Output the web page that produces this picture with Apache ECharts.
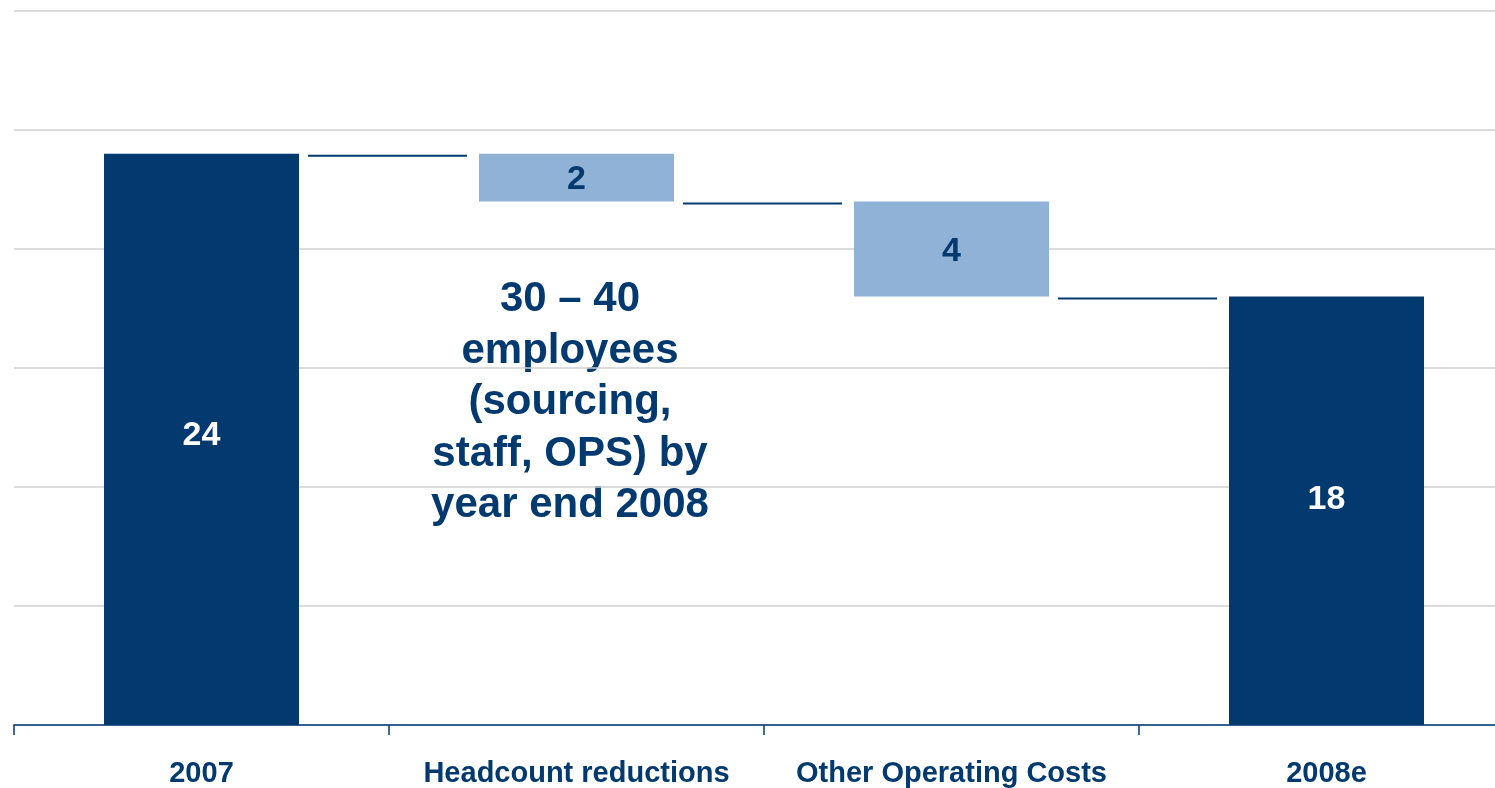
<!DOCTYPE html>
<html>
<head>
<meta charset="utf-8">
<title>Cost bridge 2007 – 2008e</title>
<script src="https://cdn.jsdelivr.net/npm/echarts@6/dist/echarts.min.js"></script>
<style>
  html, body { margin: 0; padding: 0; background: #ffffff; overflow: hidden; }
  /* the plot runs past the right edge of the page */
  #chart { width: 1514px; height: 788px; }
</style>
</head>
<body>
<div id="chart"></div>
<script>
// Bridge steps: totals are full bars, the rest are changes from the running level
const categories = ['2007', 'Headcount reductions', 'Other Operating Costs', '2008e'];
const values = [24, -2, -4, 18];
const isTotal = [true, false, false, true];
const yMax = 30;
const yInterval = 5;
const noteLines = ['30 – 40', 'employees', '(sourcing,', 'staff, OPS) by', 'year end 2008'];

const DARK = '#023a70';
const LIGHT = '#91b2d7';
const FONT = '"Liberation Sans", Arial, Helvetica, sans-serif';

// Floating-bar layout: invisible base plus visible segment, and running level after each step
const bases = [];
const sizes = [];
const levels = [];
let level = 0;
values.forEach((v, i) => {
  if (isTotal[i]) {
    bases.push(0);
    sizes.push(v);
    level = v;
  } else {
    const next = level + v;
    bases.push(Math.min(level, next));
    sizes.push(Math.abs(v));
    level = next;
  }
  levels.push(level);
});

const labelOffsets = [[0, -4], [0, 2], [0, 3], [0, -11]];

const chart = echarts.init(document.getElementById('chart'), null, { renderer: 'canvas' });

chart.setOption({
  animation: false,
  backgroundColor: '#ffffff',
  grid: { left: 14, right: 0, top: 11, bottom: 62 },
  xAxis: {
    type: 'category',
    data: categories,
    axisLine: { lineStyle: { color: DARK, width: 1.5 } },
    axisTick: { show: true, length: 10, lineStyle: { color: DARK, width: 1.5 } },
    axisLabel: {
      margin: 34,
      color: DARK,
      fontFamily: FONT,
      fontWeight: 'bold',
      fontSize: 29,
      interval: 0
    }
  },
  yAxis: {
    type: 'value',
    min: 0,
    max: yMax,
    interval: yInterval,
    axisLine: { show: false },
    axisTick: { show: false },
    axisLabel: { show: false },
    splitLine: { lineStyle: { color: '#cfcfcf', width: 1.5 } }
  },
  series: [
    {
      name: 'base',
      type: 'bar',
      stack: 'bridge',
      barWidth: 195,
      silent: true,
      itemStyle: { color: 'transparent' },
      data: bases
    },
    {
      name: 'step',
      type: 'bar',
      stack: 'bridge',
      barWidth: 195,
      data: sizes.map((s, i) => ({
        value: s,
        itemStyle: { color: isTotal[i] ? DARK : LIGHT },
        label: {
          show: true,
          position: 'inside',
          offset: labelOffsets[i],
          formatter: String(Math.abs(values[i])),
          color: isTotal[i] ? '#ffffff' : DARK,
          fontFamily: FONT,
          fontWeight: 'bold',
          fontSize: 34
        }
      }))
    },
    {
      // Connector lines between consecutive bars at the running level
      name: 'connectors',
      type: 'custom',
      silent: true,
      data: levels.slice(0, levels.length - 1).map((lv, i) => [i, lv]),
      renderItem: function (params, api) {
        const p = api.coord([api.value(0), api.value(1)]);
        const band = api.size([1, 0])[0];
        const mid = p[0] + band / 2;
        return {
          type: 'line',
          shape: { x1: mid - 81, y1: p[1] + 2, x2: mid + 78, y2: p[1] + 2 },
          style: { stroke: DARK, lineWidth: 2 }
        };
      },
      z: 3
    }
  ],
  graphic: [
    {
      type: 'text',
      x: 570,
      y: 274,
      style: {
        text: noteLines.join('\n'),
        align: 'center',
        verticalAlign: 'top',
        fill: DARK,
        font: 'bold 42px ' + FONT,
        lineHeight: 51.5
      }
    }
  ]
});
</script>
</body>
</html>
